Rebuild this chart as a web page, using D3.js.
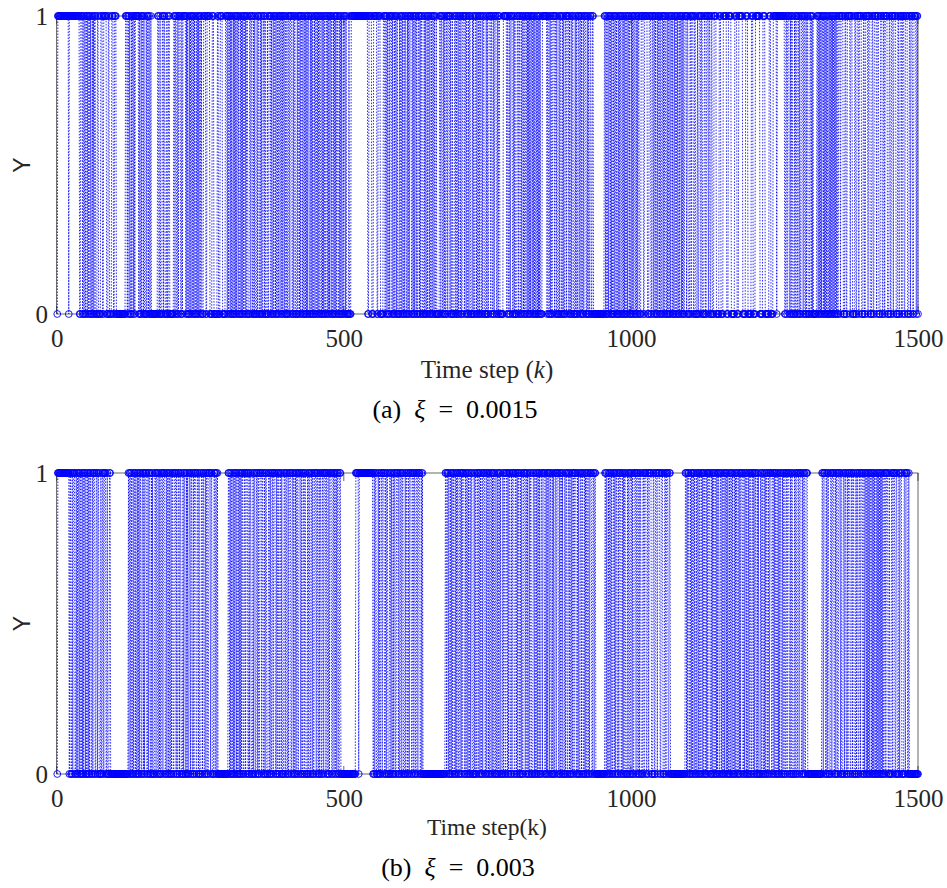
<!DOCTYPE html>
<html><head><meta charset="utf-8">
<script src="https://cdn.jsdelivr.net/npm/d3@7"></script>
<style>body{margin:0;background:#fff}svg{display:block}</style>
</head><body>
<script>
// ---- data ----
const xTicks = [0, 500, 1000, 1500];
const yTicks = [0, 1];
const xMax = 1500;
// run lengths of the binary signal, alternating 0-run, 1-run, 0-run, ...
const runsA = [
1,19, 1,18, 2,3,
1,1, 2,1, 1,2, 1,1, 1,2, 1,1, 2,1, 1,1, 1,2,
3,2, 4,3, 2,5, 3,2, 4,3, 2,3,
16,3,
1,2, 1,1, 2,1, 1,2, 1,1,
1,6,
1,1, 2,1, 1,2, 1,1, 3,1, 1,2, 1,1, 2,1,
11,2,
2,1, 3,2, 1,2, 3,1, 2,2,
7,2,
1,2, 2,1, 1,3, 2,1,
1,5,
1,1, 1,1, 2,1, 1,1, 1,2, 1,1, 1,1, 2,1, 1,1, 1,1, 1,2, 1,1,
3,4, 2,5, 4,3, 6,2, 3,4, 5,3,
1,1, 1,2, 1,1, 1,1, 2,1, 1,1, 1,1, 1,2, 1,1, 2,1, 1,1, 1,1, 1,2, 1,1, 1,2,
3,2,
1,2, 2,1, 1,1, 3,1, 1,2, 2,1, 1,1, 2,2, 1,1, 3,1,
2,3,
1,1, 2,1, 1,2, 1,1, 2,1, 1,2, 1,2, 1,1,
1,2, 1,1, 2,1, 2,2, 1,3, 2,1, 1,2, 3,1, 1,2,
1,1, 1,2, 1,1, 2,1, 1,1, 1,1, 1,2, 2,1, 1,1, 1,1, 2,1, 1,2, 1,1, 1,1, 1,2, 2,1, 1,1, 1,1, 2,2, 1,1, 1,1, 1,2, 1,1, 2,1, 1,1, 1,1, 1,2, 2,1, 1,1, 1,1, 2,1, 1,2, 1,1,
4,1, 3,29,
2,5, 3,6, 2,4, 5,3,
1,2, 1,1, 2,1, 1,3, 1,1, 2,1, 1,2, 1,1, 3,1, 1,2, 1,1, 2,1, 1,2, 2,1, 1,1, 1,3, 2,1, 1,1, 1,2, 1,1, 2,2, 1,1, 1,2, 3,1, 1,1, 2,1, 1,2, 1,1, 2,1, 1,2, 1,1, 2,1,
5,2,
1,2, 2,1, 1,1, 2,2, 1,3, 1,1, 2,1, 3,2, 1,1, 2,1, 1,2, 1,1, 2,3, 1,2, 1,1, 2,1, 1,2, 3,1, 1,1, 2,2, 1,1, 2,1, 1,2,
2,1, 1,2, 3,1, 1,1, 2,3, 1,2, 2,1, 1,3, 2,1, 1,2,
6,6,
1,2, 2,1, 1,3, 2,1, 1,1, 3,2, 1,2, 2,1, 1,2, 1,1, 2,2,
1,1, 1,1, 1,1, 1,2, 1,1, 1,1, 1,1, 2,1, 1,1, 1,1, 1,1,
3,8,
1,2, 2,1, 1,1, 2,3, 1,2, 1,1, 3,1, 1,2, 2,1, 1,1, 2,2, 1,3, 1,1, 2,1, 1,2, 3,1, 1,1, 2,2, 1,2, 1,1, 2,1, 1,3, 2,1, 1,1, 2,2, 2,2,
19,2,
1,1, 2,1, 1,2, 1,1, 1,1, 2,1, 1,2, 1,1, 2,1, 1,1, 1,2, 2,1, 1,1, 1,1, 2,1, 1,2, 1,1, 2,1, 1,1, 1,2, 2,1, 1,1, 1,2,
3,4, 2,5, 3,3, 2,2,
1,2, 1,1, 2,1, 1,2, 1,1, 2,2, 1,1, 1,2, 2,1, 1,1, 2,1, 1,2, 1,1, 2,1, 1,2, 1,1, 2,1, 1,2, 1,1, 1,1,
2,3, 1,2, 3,2, 1,3, 2,2, 3,1, 2,3, 1,2, 3,2, 2,3, 1,2, 2,2,
3,4, 5,3, 4,6, 3,5, 6,4, 3,7, 5,4, 6,3, 4,8, 5,4, 7,3, 4,6,
1,13,
2,2, 1,3, 2,1, 1,2, 3,1, 1,2, 2,2, 1,1, 2,3, 1,2, 2,1, 1,2, 3,2, 1,1, 1,1,
6,2,
1,1, 1,1, 1,1, 1,2, 1,1, 1,1, 1,1, 1,1, 2,1, 1,1, 1,1, 1,1, 1,1, 1,1, 1,1, 1,1,
2,3, 1,4, 3,2, 2,5, 1,3, 4,2, 2,3, 1,4, 3,2, 2,4, 1,3, 3,2, 2,4, 1,3, 3,3, 2,2, 1,4, 3,2, 2,3, 1,4, 3,2, 2,3, 1,3, 2,4, 3,2, 1,3, 2,4, 1,2,
1
];
const runsB = [
1,20,
1,2, 2,1, 1,3, 2,1, 1,1, 1,2, 1,1, 2,1, 1,1, 1,2, 1,1, 2,1, 1,1, 1,2, 2,1, 1,3, 2,2, 1,2, 3,1, 2,2, 1,3, 2,1, 3,2,
31,1,
1,2, 1,1, 2,1, 1,2, 1,1, 2,1, 1,1, 1,2, 2,2, 1,1, 1,3, 2,1, 1,2, 2,1, 1,1, 3,2, 1,2, 2,1, 1,1, 2,2, 1,3, 2,1, 1,2, 1,1, 2,1, 1,2, 2,3, 1,1, 2,2, 1,2, 3,1, 1,2, 2,1, 1,1, 2,2, 1,2, 2,1, 1,3, 2,2, 1,1, 3,2, 1,2, 2,1, 1,2,
2,3, 1,2, 3,2, 1,2, 1,1,
18,2,
1,1, 1,1, 2,1, 1,1, 1,2, 1,1, 2,1, 1,1, 1,1, 1,2, 2,2, 1,3, 2,1, 1,2, 3,1, 1,2, 2,2, 1,1, 2,3, 1,2, 2,1, 1,2, 3,2, 1,1, 2,2, 1,3, 2,1, 1,2, 2,2, 1,1, 3,2, 1,2, 2,1, 1,3, 2,2, 1,1, 2,1, 1,2, 2,3, 1,1, 2,2, 1,2, 3,1, 1,2, 2,2, 1,1, 2,3, 1,2, 2,1, 1,2, 2,2, 1,3,
1,2, 2,1, 1,3, 2,2, 1,2, 1,1, 1,2, 2,2,
26,5, 1,24,
2,1, 1,2, 3,1, 1,1, 2,2, 1,3, 2,1, 1,2, 3,2, 1,1, 2,1, 1,2, 2,3, 1,1, 2,2, 1,2, 3,1, 1,2, 2,1, 1,3, 2,2, 1,2,
2,2, 1,3, 2,1, 1,1,
39,2,
1,2, 1,1, 2,1, 1,1, 1,2, 2,1, 1,1, 1,2, 2,2, 1,1, 1,3, 2,1, 1,2, 1,1, 2,1, 1,2, 3,1, 1,1, 2,2, 1,2, 1,1, 2,1, 1,3, 2,1, 1,2, 1,1, 2,2, 1,1, 1,2, 2,1,
2,1, 1,2, 1,1, 3,1, 1,2, 2,2, 1,1, 1,2, 2,1, 1,3, 2,2, 1,1, 1,2, 2,1, 1,1, 2,3, 1,2, 1,1, 2,1, 1,2, 3,2, 1,1, 2,1, 1,2, 1,1, 2,2, 1,3, 2,1, 1,1, 1,2,
1,2, 2,1, 1,1, 2,2, 1,3, 2,1, 1,2, 1,1, 3,1, 1,2, 2,2, 1,1, 2,1, 1,2, 1,3, 2,1, 1,1, 2,2, 1,2, 2,1, 1,1, 1,2, 2,1, 1,3, 2,2, 1,2,
16,2,
1,1, 2,1, 1,2, 1,1, 2,2, 1,1, 1,2, 2,1, 1,3, 2,1, 1,1, 1,2, 3,1, 1,2, 2,2, 1,1, 2,3, 1,2, 2,1, 1,2, 3,2, 1,3, 2,2, 1,4, 3,2, 2,3, 1,4, 2,3, 3,2, 1,3, 2,2,
26,2,
1,1, 1,2, 2,1, 1,1, 1,2, 1,1, 2,1, 1,2, 1,1, 2,2, 1,1, 1,2, 2,1, 1,1, 1,3, 2,1, 1,1, 1,2, 2,1, 1,1, 1,2, 2,2, 1,1, 2,1, 1,2, 1,1, 1,1, 2,1, 1,2, 1,1,
2,1, 1,1, 1,2, 2,1, 1,1, 1,3, 2,1, 1,2, 1,1, 2,1, 1,2, 2,2, 1,1, 1,2, 2,1, 1,1, 3,1, 1,2, 2,1, 1,1, 1,2, 2,1, 1,3, 2,2, 1,1, 1,2, 2,1, 1,1, 1,2, 2,1,
1,2, 2,2, 1,3, 2,1, 1,2, 3,1, 1,2, 2,2, 1,3, 2,1, 1,2, 2,3,
25,2,
1,3, 2,1, 1,2, 3,2, 1,3, 2,1, 1,2, 2,3, 1,1, 3,2, 1,2, 2,1, 1,3, 2,2, 1,2, 3,1, 1,2, 2,2, 1,3, 2,1, 1,2,
1,1, 1,1, 1,1, 1,2, 1,1, 1,1, 1,1, 2,1, 1,1, 1,1, 1,1, 1,1, 1,1, 1,1,
2,2, 1,3, 2,1, 3,2, 1,3, 2,2, 3,1, 1,3, 4,2, 1,3, 2,1,
16
];

function expand(runs) {
  const out = [];
  runs.forEach((r, i) => { for (let j = 0; j < r; j++) out.push(i % 2); });
  return out.map((v, k) => ({ t: k + 1, v }));
}

const W = 947, H = 888;
const svg = d3.select("body").append("svg").attr("width", W).attr("height", H);
const serif = "'Liberation Serif','DejaVu Serif',serif";

const panels = [
  { data: expand(runsA), top: 16, bottom: 314, xlab: ["Time step (", "k", ")"], xlabY: 378, xlabSize: 25,
    cap: "(a)", capVal: "\u2002=\u20020.0015", capY: 418, capX: 455 },
  { data: expand(runsB), top: 473, bottom: 774, xlab: ["Time step(k)", "", ""], xlabY: 835, xlabSize: 23.5,
    cap: "(b)", capVal: "\u2002=\u20020.003", capY: 876, capX: 458 }
];
const L = 56.7, R = 918;

panels.forEach(p => {
  const x = d3.scaleLinear().domain([0, xMax]).range([L, R]);
  const y = d3.scaleLinear().domain([0, 1]).range([p.bottom, p.top]);
  const g = svg.append("g");

  // box
  g.append("rect").attr("x", L).attr("y", p.top).attr("width", R - L).attr("height", p.bottom - p.top)
    .attr("fill", "none").attr("stroke", "#262626").attr("stroke-width", 0.7);

  // ticks (inside, mirrored)
  xTicks.forEach(t => {
    g.append("line").attr("x1", x(t)).attr("x2", x(t)).attr("y1", p.bottom).attr("y2", p.bottom - 8)
      .attr("stroke", "#262626").attr("stroke-width", 0.7);
    g.append("line").attr("x1", x(t)).attr("x2", x(t)).attr("y1", p.top).attr("y2", p.top + 8)
      .attr("stroke", "#262626").attr("stroke-width", 0.7);
  });

  // series line (dotted)
  const line = d3.line().x(d => x(d.t)).y(d => y(d.v));
  g.append("path").datum(p.data).attr("d", line).attr("fill", "none")
    .attr("stroke", "#0000ff").attr("stroke-width", 0.85).attr("stroke-dasharray", "1.5,1.5");

  // markers
  g.append("g").selectAll("circle").data(p.data).join("circle")
    .attr("cx", d => x(d.t)).attr("cy", d => y(d.v)).attr("r", 3.4)
    .attr("fill", "none").attr("stroke", "#0000ff").attr("stroke-width", 0.9);

  // x tick labels
  const xa = d3.axisBottom(x).tickValues(xTicks).tickSize(0).tickPadding(0).tickFormat(d3.format("d"));
  const xg = g.append("g").attr("transform", `translate(0,${p.bottom + 33})`).call(xa);
  xg.select(".domain").remove();
  xg.selectAll("text").attr("font-family", serif).attr("font-size", 25).attr("fill", "#262626").attr("dy", 0).attr("y", 0);

  // y tick labels
  const ya = d3.axisLeft(y).tickValues(yTicks).tickSize(0).tickPadding(0).tickFormat(d3.format("d"));
  const yg = g.append("g").attr("transform", `translate(48,0)`).call(ya);
  yg.select(".domain").remove();
  yg.selectAll("text").attr("font-family", serif).attr("font-size", 25).attr("fill", "#262626").attr("dy", "0.33em");

  // Y label
  svg.append("text").attr("transform", `translate(30,${(p.top + p.bottom) / 2}) rotate(-90)`)
    .attr("text-anchor", "middle").attr("font-family", "'Liberation Sans',Arial,sans-serif")
    .attr("font-size", 23).attr("fill", "#262626").text("Y");

  // x label
  const xl = svg.append("text").attr("x", 487).attr("y", p.xlabY).attr("text-anchor", "middle")
    .attr("font-family", serif).attr("font-size", p.xlabSize).attr("fill", "#262626");
  xl.append("tspan").text(p.xlab[0]);
  if (p.xlab[1]) xl.append("tspan").attr("font-style", "italic").text(p.xlab[1]);
  if (p.xlab[2]) xl.append("tspan").text(p.xlab[2]);

  // caption
  const cp = svg.append("text").attr("x", p.capX).attr("y", p.capY).attr("text-anchor", "middle")
    .attr("font-family", serif).attr("font-size", 26).attr("fill", "#000");
  cp.append("tspan").text(p.cap + "\u2002");
  cp.append("tspan").attr("font-style", "italic").text("\u03BE");
  cp.append("tspan").text(p.capVal);
});
</script>
</body></html>
